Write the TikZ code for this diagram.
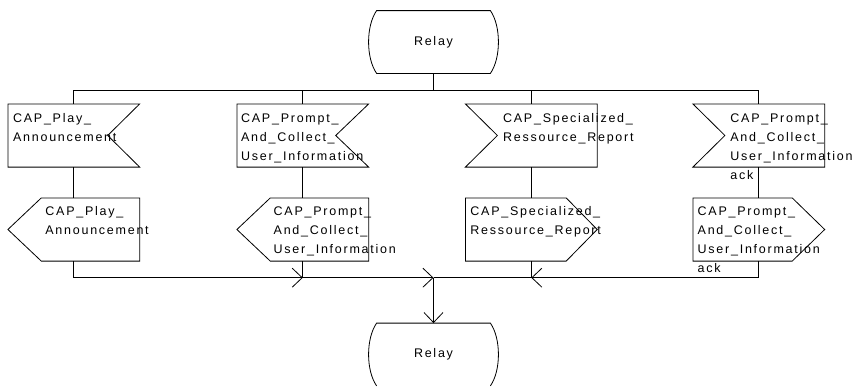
\documentclass[tikz,border=0pt]{standalone}
\usepackage{fontspec}
\setmainfont{Liberation Sans}[LetterSpace=14]
\usetikzlibrary{arrows.meta,calc}
\newcommand{\stk}[1]{\vtop{\baselineskip=19pt\lineskiplimit=-20pt #1}}
\begin{document}
\begin{tikzpicture}[x=1pt,y=-1pt,line width=0.8pt,
  box/.style={rectangle,inner sep=0pt,minimum width=131pt,minimum height=62.4pt},
  relaybox/.style={rectangle,inner sep=0pt,minimum width=113pt,minimum height=62pt,font=\fontsize{12.5pt}{19pt}\selectfont},
  lbl/.style={anchor=base west,inner sep=0pt,font=\fontsize{12.5pt}{19pt}\selectfont},
  arr/.style={-{Straight Barb[length=10pt,width=19pt,line width=0.8pt]}},
  shp/.style={draw,line width=0.8pt,line join=miter}]
\useasboundingbox (0,0) rectangle (855,386);

% terminal (relay) states
\node[relaybox] (relayA) at (433.5,42) {Relay};
\node[relaybox] (relayB) at (433.5,354.5) {Relay};
\draw[shp] (relayA.south west) .. controls +(-10.7,-15.5) and +(-10.7,15.5) .. (relayA.north west)
  -- (relayA.north east) .. controls +(10.7,15.5) and +(10.7,-15.5) .. (relayA.south east) -- cycle;
\draw[shp] (relayB.south west) .. controls +(-10.7,-15.5) and +(-10.7,15.5) .. (relayB.north west)
  -- (relayB.north east) .. controls +(10.7,15.5) and +(10.7,-15.5) .. (relayB.south east);

% input signals
\node[box] (in1) at (73.8,135.5) {};
\node[box] (in2) at (302.8,135.5) {};
\node[box] (in3) at (531.3,135.5) {};
\node[box] (in4) at (758.8,135.5) {};
\draw[shp] (in1.north west) -- (in1.north east) -- ($(in1.east)+(-32,0)$) -- (in1.south east) -- (in1.south west) -- cycle;
\draw[shp] (in2.north west) -- (in2.north east) -- ($(in2.east)+(-33,0)$) -- (in2.south east) -- (in2.south west) -- cycle;
\draw[shp] (in3.north west) -- (in3.north east) -- (in3.south east) -- (in3.south west) -- ($(in3.west)+(32,0)$) -- cycle;
\draw[shp] (in4.north west) -- (in4.north east) -- (in4.south east) -- (in4.south west) -- ($(in4.west)+(32,0)$) -- cycle;

% output signals
\node[box] (out1) at (73.8,229.5) {};
\node[box] (out2) at (302.8,229.5) {};
\node[box] (out3) at (531.3,229.5) {};
\node[box] (out4) at (758.8,229.5) {};
\draw[shp] ($(out1.north west)+(33.4,0)$) -- (out1.north east) -- (out1.south east) -- ($(out1.south west)+(33.4,0)$) -- (out1.west) -- cycle;
\draw[shp] ($(out2.north west)+(33.4,0)$) -- (out2.north east) -- (out2.south east) -- ($(out2.south west)+(33.4,0)$) -- (out2.west) -- cycle;
\draw[shp] (out3.north west) -- ($(out3.north east)+(-31,0)$) -- (out3.east) -- ($(out3.south east)+(-31,0)$) -- (out3.south west) -- cycle;
\draw[shp] (out4.north west) -- ($(out4.north east)+(-32.5,0)$) -- (out4.east) -- ($(out4.south east)+(-32.5,0)$) -- (out4.south west) -- cycle;

% labels
\node[lbl] (in1t) at (12.7,122) {\stk{\hbox{CAP\_Play\_}\hbox{Announcement}}};
\node[lbl] (in2t) at (240.7,122) {\stk{\hbox{CAP\_Prompt\_}\hbox{And\_Collect\_}\hbox{User\_Information}}};
\node[lbl] (in3t) at (502.7,122) {\stk{\hbox{CAP\_Specialized\_}\hbox{Ressource\_Report}}};
\node[lbl] (in4t) at (730,122) {\stk{\hbox{CAP\_Prompt\_}\hbox{And\_Collect\_}\hbox{User\_Information}\hbox{ack}}};
\node[lbl] (out1t) at (45,215) {\stk{\hbox{CAP\_Play\_}\hbox{Announcement}}};
\node[lbl] (out2t) at (273.3,215) {\stk{\hbox{CAP\_Prompt\_}\hbox{And\_Collect\_}\hbox{User\_Information}}};
\node[lbl] (out3t) at (470,215) {\stk{\hbox{CAP\_Specialized\_}\hbox{Ressource\_Report}}};
\node[lbl] (out4t) at (697.3,215) {\stk{\hbox{CAP\_Prompt\_}\hbox{And\_Collect\_}\hbox{User\_Information}\hbox{ack}}};

% top distribution bus
\coordinate (busT) at (433.5,90);
\coordinate (t1) at (in1.north |- busT);
\coordinate (t2) at (in2.north |- busT);
\coordinate (t3) at (in3.north |- busT);
\coordinate (t4) at (in4.north |- busT);
\draw (relayA.south) -- (busT);
\draw (in1.north) -- (t1) -- (t4) -- (in4.north);
\draw (in2.north) -- (t2);
\draw (in3.north) -- (t3);

% input -> output
\draw (in1.south) -- (out1.north);
\draw (in2.south) -- (out2.north);
\draw (in3.south) -- (out3.north);
\draw (in4.south) -- (out4.north);

% bottom merge bus
\coordinate (m) at (433.5,277.7);
\coordinate (b2) at (out2.south |- m);
\coordinate (b3) at (out3.south |- m);
\draw[arr] (out1.south) |- (b2);
\draw (out2.south) -- (b2);
\draw[arr] (b2) -- (m);
\draw[arr] (out4.south) |- (b3);
\draw (out3.south) -- (b3) -- (m);
\draw[arr] (m) -- (relayB.north);
\end{tikzpicture}
\end{document}
